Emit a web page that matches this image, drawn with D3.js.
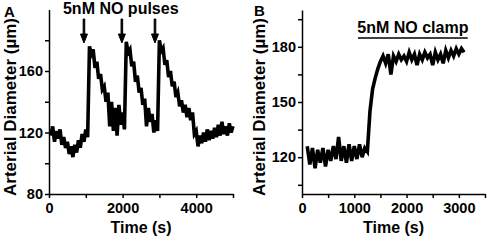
<!DOCTYPE html>
<html>
    <head>
        <script src="https://d3js.org/d3.v7.min.js"></script>
        <style>
          body { margin: 0; background: #ffffff; }
          svg { display: block; font-family: Arial, "Liberation Sans", sans-serif; font-weight: bold; }
          .axis path, .axis line { stroke: #000000; stroke-width: 1.5; }
          .axis text { font-size: 14.5px; font-weight: bold; fill: #000000; }
      </style>
    </head>
    <body>
        <div id="chart"></div>
        <script>

            /* PANEL A: NO pulses, sampled every 50 s from 50 s */
            var pulsesStart = 50;
            var pulsesStep = 50;
            var pulsesDiameter = [
                118, 124, 114, 121, 116, 122, 112, 117, 110, 114,
                106, 111, 104, 112, 107, 115, 110, 119, 114, 122,
                117, 176, 171, 174, 162, 166, 155, 158, 148, 150,
                140, 146, 124, 140, 121, 136, 118, 138, 125, 133,
                122, 179, 172, 174, 163, 166, 153, 157, 146, 149,
                138, 142, 124, 136, 127, 132, 120, 128, 121, 180,
                173, 175, 164, 167, 156, 160, 150, 153, 143, 146,
                137, 141, 133, 138, 130, 136, 128, 133, 119, 121,
                111, 118, 113, 120, 114, 122, 115, 121, 116, 123,
                117, 125, 118, 127, 119, 124, 118, 126, 120, 124
            ];
            var pulseTimes = [950, 1980, 2880];

            /* PANEL B: NO clamp, sampled every 50 s from 100 s */
            var clampStart = 100;
            var clampStep = 50;
            var clampDiameter = [
                126, 116, 125, 114, 124, 117, 125, 115, 124, 118,
                126, 119, 131, 118, 126, 117, 127, 118, 126, 119,
                127, 120, 125, 123, 145, 157, 163, 168, 172, 175,
                171, 176, 165, 175, 172, 176, 173, 175, 172, 177,
                173, 176, 170, 176, 173, 177, 174, 176, 170, 177,
                173, 176, 171, 178, 174, 178, 175, 179, 176, 179,
                177
            ];
            var clampPeriod = [1070, 3170];

            /* AXIS TICKS */
            var tickTimeA = [0, 1000, 2000, 3000, 4000, 5000];
            var labelTimeA = [0, 2000, 4000];
            var tickDiamA = [80, 100, 120, 140, 160, 180];
            var labelDiamA = [80, 120, 160];
            var tickTimeB = [0, 500, 1000, 1500, 2000, 2500, 3000, 3500];
            var labelTimeB = [0, 1000, 2000, 3000];
            var tickDiamB = [105, 120, 135, 150, 165, 180, 195];
            var labelDiamB = [120, 150, 180];

            var width = 490;
            var height = 242;
            var svg = d3.select("#chart")
                .append("svg")
                .attr("width", width)
                .attr("height", height);

            function labelOnly(list) {
                return function(d) { return list.indexOf(d) >= 0 ? d : ""; };
            }

            function drawPanel(opt) {
                var g = svg.append("g");

                g.append("g")
                    .attr("class", "axis")
                    .attr("transform", "translate(0," + opt.y.range()[0] + ")")
                    .call(d3.axisBottom(opt.x)
                        .tickValues(opt.xTicks)
                        .tickFormat(labelOnly(opt.xLabels))
                        .tickSize(4)
                        .tickSizeOuter(0)
                        .tickPadding(5));

                g.append("g")
                    .attr("class", "axis")
                    .attr("transform", "translate(" + opt.x.range()[0] + ",0)")
                    .call(d3.axisLeft(opt.y)
                        .tickValues(opt.yTicks)
                        .tickFormat(labelOnly(opt.yLabels))
                        .tickSize(4)
                        .tickSizeOuter(0)
                        .tickPadding(2));

                var line = d3.line()
                    .x(function(d, i) { return opt.x(opt.start + i * opt.step); })
                    .y(function(d) { return opt.y(d); });

                g.append("path")
                    .datum(opt.values)
                    .attr("fill", "none")
                    .attr("stroke", "#000000")
                    .attr("stroke-width", 3.6)
                    .attr("stroke-linejoin", "miter")
                    .attr("d", line);

                /* axis titles and panel letter */
                g.append("text")
                    .attr("x", (opt.x.range()[0] + opt.x.range()[1]) / 2)
                    .attr("y", 233)
                    .attr("text-anchor", "middle")
                    .style("font-size", "16px")
                    .text("Time (s)");

                g.append("text")
                    .attr("transform", "translate(" + opt.yTitleX + ",107) rotate(-90)")
                    .attr("text-anchor", "middle")
                    .style("font-size", "17px")
                    .text("Arterial Diameter (\u00b5m)");

                g.append("text")
                    .attr("x", opt.letterX)
                    .attr("y", opt.letterY)
                    .style("font-size", "15px")
                    .text(opt.letter);

                return g;
            }

            var xA = d3.scaleLinear().domain([0, 5000]).range([49, 233]);
            var yA = d3.scaleLinear().domain([80, 200]).range([194, 9.5]);
            var panelA = drawPanel({
                x: xA, y: yA, values: pulsesDiameter, start: pulsesStart, step: pulsesStep,
                xTicks: tickTimeA, xLabels: labelTimeA, yTicks: tickDiamA, yLabels: labelDiamA,
                yTitleX: 16, letter: "A", letterX: 4, letterY: 17
            });

            /* pulse arrows */
            panelA.selectAll(".arrow")
                .data(pulseTimes)
                .enter()
                .append("path")
                    .attr("class", "arrow")
                    .attr("fill", "#000000")
                    .attr("stroke", "#000000")
                    .attr("stroke-width", 1)
                    .attr("d", function(d) {
                        var x = xA(d);
                        return "M" + (x - 0.8) + ",19 L" + (x + 0.8) + ",19 L" + (x + 0.8) + ",34 L" + (x + 3.5) + ",34 L" + x + ",43 L" + (x - 3.5) + ",34 L" + (x - 0.8) + ",34 Z";
                    });

            panelA.append("text")
                .attr("x", xA(1950))
                .attr("y", 14)
                .attr("text-anchor", "middle")
                .style("font-size", "16px")
                .text("5nM NO pulses");

            var xB = d3.scaleLinear().domain([0, 3500]).range([302, 485]);
            var yB = d3.scaleLinear().domain([100, 200]).range([194, 10]);
            var panelB = drawPanel({
                x: xB, y: yB, values: clampDiameter, start: clampStart, step: clampStep,
                xTicks: tickTimeB, xLabels: labelTimeB, yTicks: tickDiamB, yLabels: labelDiamB,
                yTitleX: 265, letter: "B", letterX: 254, letterY: 16
            });

            /* clamp bar */
            panelB.append("line")
                .attr("x1", xB(clampPeriod[0]))
                .attr("x2", xB(clampPeriod[1]))
                .attr("y1", 38)
                .attr("y2", 38)
                .attr("stroke", "#000000")
                .attr("stroke-width", 1.5);

            panelB.append("text")
                .attr("x", xB((clampPeriod[0] + clampPeriod[1]) / 2))
                .attr("y", 33)
                .attr("text-anchor", "middle")
                .style("font-size", "16px")
                .text("5nM NO clamp");

        </script>
    </body>
</html>
